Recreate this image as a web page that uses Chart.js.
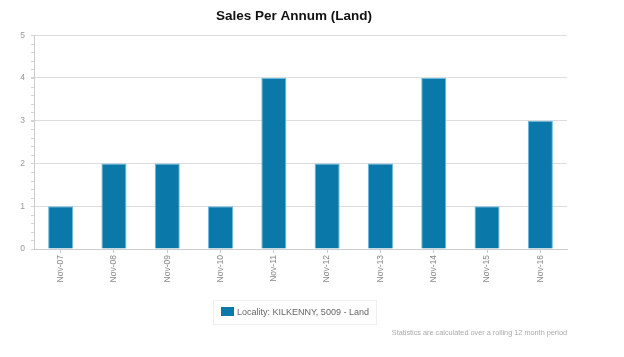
<!DOCTYPE html>
<html>
<head>
<meta charset="utf-8">
<script src="https://cdn.jsdelivr.net/npm/chart.js@4"></script>
<style>
html,body{margin:0;padding:0;background:#fff;}
#wrap{width:624px;height:357px;}
</style>
</head>
<body>
<div id="wrap"><canvas id="c" width="624" height="357"></canvas></div>
<script>
const categories = ["Nov-07","Nov-08","Nov-09","Nov-10","Nov-11","Nov-12","Nov-13","Nov-14","Nov-15","Nov-16"];
const salesValues = [1,2,2,1,4,2,2,4,1,3];
const yTicks = [0,1,2,3,4,5];
const seriesLabel = "Locality: KILKENNY, 5009 - Land";
const titleText = "Sales Per Annum (Land)";
const footerText = "Statistics are calculated over a rolling 12 month period";

const FONT = "'Liberation Sans', Arial, Helvetica, sans-serif";

const extras = {
  id: 'extras',
  afterDraw(chart) {
    const ctx = chart.ctx;
    const y = chart.scales.y;
    const area = chart.chartArea;
    ctx.save();
    // minor ticks
    ctx.strokeStyle = '#d4d4d4';
    ctx.lineWidth = 1;
    for (let i = 0; i <= 25; i++) {
      const py = Math.round(y.getPixelForValue(i * 0.2)) + 0.5;
      ctx.beginPath();
      ctx.moveTo(area.left - 3, py);
      ctx.lineTo(area.left, py);
      ctx.stroke();
    }
    // legend box
    const ds = chart.data.datasets[0];
    ctx.font = "9px " + FONT;
    const tw = ctx.measureText(ds.label).width;
    const bx = 213, by = 300, bh = 24;
    const bw = 8 + 13 + 3 + tw + 7;
    ctx.strokeStyle = '#eeeeee';
    ctx.strokeRect(bx + 0.5, by + 0.5, bw, bh);
    ctx.fillStyle = ds.backgroundColor;
    ctx.fillRect(bx + 8, by + 7, 13, 9);
    ctx.fillStyle = '#666666';
    ctx.textBaseline = 'middle';
    ctx.textAlign = 'left';
    ctx.fillText(ds.label, bx + 24, by + 12.5);
    // footer
    ctx.font = "7.3px " + FONT;
    ctx.fillStyle = '#aaaaaa';
    ctx.textAlign = 'right';
    ctx.fillText(footerText, area.right, 333);
    ctx.restore();
  }
};

new Chart(document.getElementById('c'), {
  type: 'bar',
  data: {
    labels: categories,
    datasets: [{
      label: seriesLabel,
      data: salesValues,
      backgroundColor: '#0a78a9',
      borderColor: '#6bb8dc',
      borderWidth: 1,
      barPercentage: 0.5,
      categoryPercentage: 0.94
    }]
  },
  options: {
    responsive: false,
    animation: false,
    layout: { padding: { left: 0, right: 36, top: 0, bottom: 60 } },
    plugins: {
      legend: { display: false },
      tooltip: { enabled: false },
      title: {
        display: true,
        text: titleText,
        color: '#111111',
        font: { family: FONT, size: 13.5, weight: 'bold' },
        padding: { top: 8, bottom: 11 }
      }
    },
    scales: {
      x: {
        grid: { display: true, drawOnChartArea: false, offset: false, tickLength: 4, color: '#cccccc' },
        border: { color: '#cccccc' },
        ticks: {
          color: '#888888',
          font: { family: FONT, size: 8.5 },
          minRotation: 90, maxRotation: 90,
          padding: 2
        },
        afterFit(s) { s.height = 48; }
      },
      y: {
        min: 0, max: 5,
        afterBuildTicks(s) { s.ticks = yTicks.map(v => ({ value: v })); },
        grid: { color: '#dddddd', tickLength: 3, tickColor: '#d4d4d4' },
        border: { color: '#cccccc' },
        ticks: {
          color: '#999999',
          font: { family: FONT, size: 8.5 },
          padding: 6
        },
        afterFit(s) { s.width = 34; }
      },
      y2: {
        position: 'right',
        display: true,
        grid: { display: false, drawTicks: false },
        border: { display: false },
        ticks: { display: false },
        afterFit(s) { s.width = 21; }
      }
    }
  },
  plugins: [extras]
});
</script>
</body>
</html>
